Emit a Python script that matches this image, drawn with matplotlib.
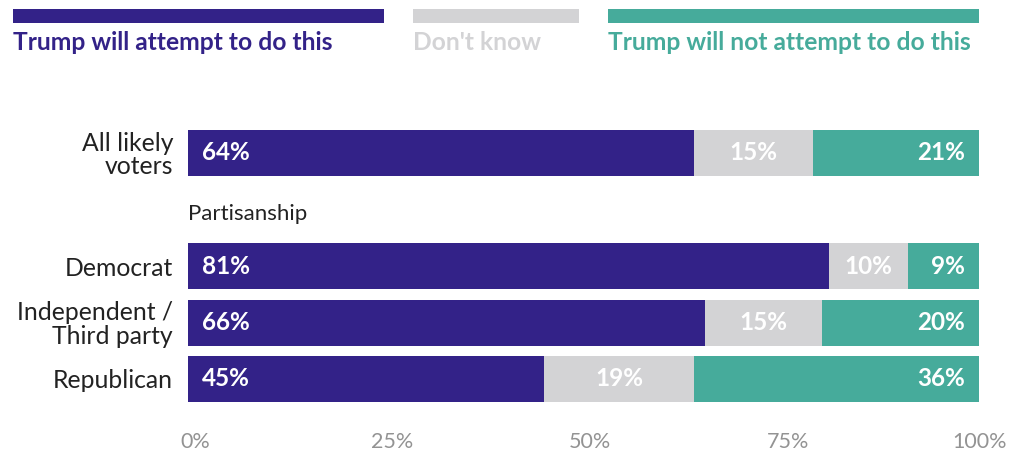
import matplotlib
matplotlib.use("Agg")
import matplotlib.pyplot as plt
from matplotlib.patches import Rectangle
from matplotlib.transforms import ScaledTranslation

categories = ["All likely\nvoters", "Democrat", "Independent /\nThird party", "Republican"]
positions = [0, 2, 3, 4]
will_attempt = [64, 81, 66, 45]
dont_know = [15, 10, 15, 19]
will_not = [21, 9, 20, 36]
series_names = ["Trump will attempt to do this", "Don't know", "Trump will not attempt to do this"]
xticks = [0, 25, 50, 75, 100]
xtick_labels = ["0%", "25%", "50%", "75%", "100%"]

PURPLE = "#332288"
GRAY = "#d3d3d5"
TEAL = "#46ab9b"
colors = [PURPLE, GRAY, TEAL]

plt.rcParams['font.family'] = ['Lato', 'DejaVu Sans']

W, H = 1010, 451
U = 56.5  # pixels per category unit
top_px = 153 - 0.6 * U
bot_px = 153 + 4.6 * U
fig = plt.figure(figsize=(W / 100, H / 100), dpi=100)
ax = fig.add_axes([188 / W, 1 - bot_px / H, 791 / W, (bot_px - top_px) / H])

bh = 46 / U
for pos, a, d, n in zip(positions, will_attempt, dont_know, will_not):
    tot = a + d + n
    a_, d_, n_ = a * 100 / tot, d * 100 / tot, n * 100 / tot
    ax.barh(pos, a_, height=bh, left=0, color=PURPLE, linewidth=0)
    ax.barh(pos, d_, height=bh, left=a_, color=GRAY, linewidth=0)
    ax.barh(pos, n_, height=bh, left=a_ + d_, color=TEAL, linewidth=0)
    ax.text(1.75, pos, f"{a}%", color="white", fontsize=17.5, fontweight="bold",
            ha="left", va="center")
    ax.text(a_ + d_ / 2, pos, f"{d}%", color="white", fontsize=17.5, fontweight="bold",
            ha="center", va="center")
    ax.text(98.25, pos, f"{n}%", color="white", fontsize=17.5, fontweight="bold",
            ha="right", va="center")

ax.set_xlim(0, 100)
ax.set_ylim(4.6, -0.6)
ax.set_yticks(positions)
ax.set_yticklabels(categories, fontsize=17.8, color="#222222", linespacing=1.0)
ax.set_xticks(xticks)
ax.set_xticklabels(xtick_labels, fontsize=15.5, color="#939393", fontweight="normal")
ax.tick_params(axis="both", length=0)
ax.tick_params(axis="x", pad=14)
ax.tick_params(axis="y", pad=10.8)
for lbl, dx in zip(ax.get_xticklabels(), [7, 6.5, 6.5, 6.5, 1]):
    lbl.set_transform(lbl.get_transform() + ScaledTranslation(dx / 100, 0, fig.dpi_scale_trans))
for s in ax.spines.values():
    s.set_visible(False)

ax.text(0, 1.08, "Partisanship", fontsize=16, color="#222222", ha="left", va="center")

# legend
leg = [(13, 384), (413, 579), (608, 979)]
text_colors = [PURPLE, GRAY, TEAL]
for (x0, x1), c, tc, name in zip(leg, colors, text_colors, series_names):
    fig.add_artist(Rectangle((x0 / W, 1 - 23 / H), (x1 - x0) / W, 14 / H,
                             transform=fig.transFigure, color=c, linewidth=0))
    fig.text(x0 / W, 1 - 43 / H, name, color=tc, fontsize=17.7, fontweight="bold",
             ha="left", va="center")

fig.savefig("out.png", dpi=100)
